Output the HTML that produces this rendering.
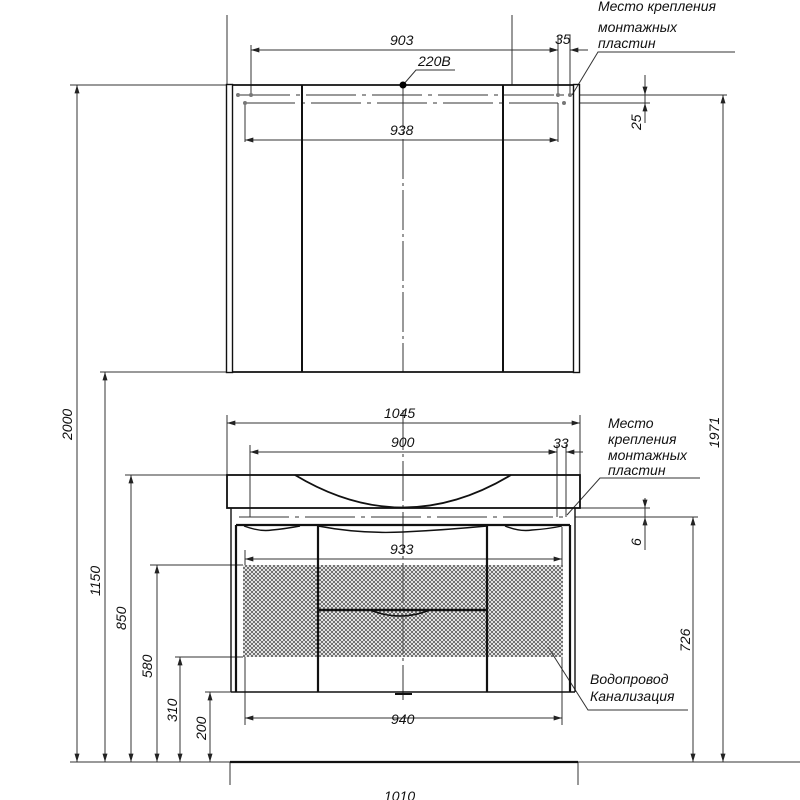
<!DOCTYPE html>
<html><head><meta charset="utf-8"><style>
html,body{margin:0;padding:0;background:#fff}
svg{display:block}
text{font-family:"Liberation Sans",sans-serif;font-style:italic;fill:#111}
</style></head><body>
<svg width="800" height="800" viewBox="0 0 800 800" xmlns="http://www.w3.org/2000/svg">
<defs>
<pattern id="h" width="4" height="4" patternUnits="userSpaceOnUse">
<path d="M0,0 L4,4 M4,0 L0,4" stroke="#555" stroke-width="0.8"/>
</pattern>
<marker id="a" viewBox="0 0 10 6" refX="10" refY="3" markerWidth="9" markerHeight="5" orient="auto-start-reverse"><path d="M0,0 L10,3 L0,6z" fill="#222"/></marker>
</defs>
<g stroke="#333" stroke-width="1" fill="none">
<line x1="227" y1="15" x2="227" y2="85"/>
<line x1="512" y1="15" x2="512" y2="85"/>
<line x1="251" y1="45" x2="251" y2="96"/>
<line x1="558" y1="35" x2="558" y2="96"/>
<line x1="570" y1="35" x2="570" y2="96"/>
<line x1="245" y1="103" x2="245" y2="142"/>
<line x1="558" y1="103" x2="558" y2="142"/>
<line x1="251" y1="50" x2="558" y2="50" marker-start="url(#a)" marker-end="url(#a)"/>
<line x1="540" y1="50" x2="558" y2="50" marker-end="url(#a)"/>
<line x1="588" y1="50" x2="570" y2="50" marker-end="url(#a)"/>
<line x1="245" y1="140" x2="558" y2="140" marker-start="url(#a)" marker-end="url(#a)"/>
<polyline points="572,95 598,52 735,52"/>
<polyline points="403,85 416,70 455,70"/>
<line x1="70" y1="85" x2="226" y2="85"/>
<line x1="580" y1="95" x2="727" y2="95"/>
<line x1="580" y1="103" x2="650" y2="103"/>
<line x1="645" y1="75" x2="645" y2="95" marker-end="url(#a)"/>
<line x1="645" y1="123" x2="645" y2="103" marker-end="url(#a)"/>
<line x1="645" y1="95" x2="645" y2="103"/>
<line x1="100" y1="372" x2="226" y2="372"/>
<line x1="403" y1="88" x2="403" y2="372" stroke-dasharray="40,4,3,4"/>
<line x1="403" y1="410" x2="403" y2="700" stroke-dasharray="40,4,3,4"/>
<line x1="240" y1="95" x2="565" y2="95" stroke-dasharray="50,6,4,6"/>
<line x1="245" y1="103" x2="558" y2="103" stroke-dasharray="50,6,4,6"/>
<line x1="77" y1="85" x2="77" y2="762" marker-start="url(#a)" marker-end="url(#a)"/>
<line x1="105" y1="372" x2="105" y2="762" marker-start="url(#a)" marker-end="url(#a)"/>
<line x1="131" y1="475" x2="131" y2="762" marker-start="url(#a)" marker-end="url(#a)"/>
<line x1="157" y1="565" x2="157" y2="762" marker-start="url(#a)" marker-end="url(#a)"/>
<line x1="180" y1="657" x2="180" y2="762" marker-start="url(#a)" marker-end="url(#a)"/>
<line x1="210" y1="692" x2="210" y2="762" marker-start="url(#a)" marker-end="url(#a)"/>
<line x1="125" y1="475" x2="227" y2="475"/>
<line x1="150" y1="565" x2="243" y2="565"/>
<line x1="175" y1="657" x2="243" y2="657"/>
<line x1="205" y1="692" x2="232" y2="692"/>
<line x1="723" y1="95" x2="723" y2="762" marker-start="url(#a)" marker-end="url(#a)"/>
<line x1="693" y1="517" x2="693" y2="762" marker-start="url(#a)" marker-end="url(#a)"/>
<line x1="575" y1="517" x2="698" y2="517"/>
<line x1="580" y1="508" x2="650" y2="508"/>
<line x1="645" y1="498" x2="645" y2="508" marker-end="url(#a)"/>
<line x1="645" y1="527" x2="645" y2="517" marker-end="url(#a)"/>
<line x1="645" y1="508" x2="645" y2="550"/>
<line x1="227" y1="415" x2="227" y2="475"/>
<line x1="580" y1="415" x2="580" y2="475"/>
<line x1="227" y1="423" x2="580" y2="423" marker-start="url(#a)" marker-end="url(#a)"/>
<line x1="250" y1="445" x2="250" y2="517"/>
<line x1="557" y1="445" x2="557" y2="517"/>
<line x1="566" y1="445" x2="566" y2="517"/>
<line x1="250" y1="452" x2="557" y2="452" marker-start="url(#a)" marker-end="url(#a)"/>
<line x1="540" y1="452" x2="557" y2="452" marker-end="url(#a)"/>
<line x1="583" y1="452" x2="566" y2="452" marker-end="url(#a)"/>
<polyline points="567,515 600,478 700,478"/>
<line x1="239" y1="517" x2="567" y2="517" stroke-dasharray="50,6,4,6"/>
<line x1="245" y1="550" x2="245" y2="565"/>
<line x1="562" y1="527" x2="562" y2="565"/>
<line x1="245" y1="559" x2="562" y2="559" marker-start="url(#a)" marker-end="url(#a)"/>
<line x1="245" y1="657" x2="245" y2="725"/>
<line x1="562" y1="657" x2="562" y2="725"/>
<line x1="245" y1="718" x2="562" y2="718" marker-start="url(#a)" marker-end="url(#a)"/>
<polyline points="548,647 588,710 688,710"/>
<line x1="230" y1="762" x2="230" y2="785"/>
<line x1="578" y1="762" x2="578" y2="785"/>
<line x1="70" y1="762" x2="800" y2="762"/>
</g>
<g stroke="#111" fill="none">
<rect x="226.5" y="84.5" width="6" height="288" stroke-width="1.4"/>
<rect x="573.5" y="84.5" width="6" height="288" stroke-width="1.4"/>
<line x1="232" y1="85" x2="574" y2="85" stroke-width="1.8"/>
<line x1="232" y1="372" x2="574" y2="372" stroke-width="1.8"/>
<line x1="302" y1="85" x2="302" y2="372" stroke-width="2"/>
<line x1="503" y1="85" x2="503" y2="372" stroke-width="2"/>
</g>
<g fill="#777"><circle cx="238" cy="95" r="2"/><circle cx="251" cy="95" r="2"/><circle cx="245" cy="103" r="2"/><circle cx="558" cy="95" r="2"/><circle cx="570" cy="95" r="2"/><circle cx="564" cy="103" r="2"/></g>
<circle cx="403" cy="85" r="3.5" fill="#000"/>
<rect x="243" y="565" width="320" height="92" fill="url(#h)"/>
<g stroke="#111" fill="none">
<rect x="227" y="475" width="353" height="33" stroke-width="1.8"/>
<path d="M295,475 Q403,540 511,475" stroke-width="1.8"/>
<line x1="231" y1="508" x2="231" y2="692" stroke-width="1.4"/>
<line x1="236" y1="525" x2="236" y2="692" stroke-width="2.2"/>
<line x1="570" y1="525" x2="570" y2="692" stroke-width="2.2"/>
<line x1="575" y1="508" x2="575" y2="692" stroke-width="1.4"/>
<line x1="236" y1="525" x2="570" y2="525" stroke-width="2.2"/>
<path d="M244,526 Q260,532 272,530 Q284,529 300,526 M318,526 Q360,534 403,532 Q445,530 487,526 M505,526 Q520,532 532,530 Q548,529 562,526" stroke-width="1.4"/>
<line x1="318" y1="525" x2="318" y2="692" stroke-width="2.2"/>
<line x1="487" y1="525" x2="487" y2="692" stroke-width="2.2"/>
<line x1="318" y1="610" x2="487" y2="610" stroke-width="2.6"/>
<path d="M370,610 Q400,622 430,610" stroke-width="1.6"/>
<line x1="231" y1="692" x2="575" y2="692" stroke-width="1.6"/>
<line x1="395" y1="694" x2="412" y2="694" stroke-width="2"/>
<line x1="230" y1="762" x2="578" y2="762" stroke-width="2.2"/>
</g>
<g font-size="14">
<text x="390" y="45">903</text>
<text x="555" y="44">35</text>
<text x="418" y="66">220B</text>
<text x="390" y="135">938</text>
<text x="598" y="11">Место крепления</text>
<text x="598" y="32">монтажных</text>
<text x="598" y="48">пластин</text>
<text x="384" y="418">1045</text>
<text x="391" y="447">900</text>
<text x="553" y="448">33</text>
<text x="608" y="428">Место</text>
<text x="608" y="444">крепления</text>
<text x="608" y="460">монтажных</text>
<text x="608" y="475">пластин</text>
<text x="390" y="554">933</text>
<text x="391" y="724">940</text>
<text x="590" y="684">Водопровод</text>
<text x="590" y="701">Канализация</text>
<text x="384" y="801">1010</text>
<text transform="translate(72,440) rotate(-90)">2000</text>
<text transform="translate(100,596) rotate(-90)">1150</text>
<text transform="translate(126,630) rotate(-90)">850</text>
<text transform="translate(152,678) rotate(-90)">580</text>
<text transform="translate(177,722) rotate(-90)">310</text>
<text transform="translate(206,740) rotate(-90)">200</text>
<text transform="translate(641,130) rotate(-90)">25</text>
<text transform="translate(641,546) rotate(-90)">6</text>
<text transform="translate(690,652) rotate(-90)">726</text>
<text transform="translate(719,448) rotate(-90)">1971</text>
</g>
</svg>
</body></html>
